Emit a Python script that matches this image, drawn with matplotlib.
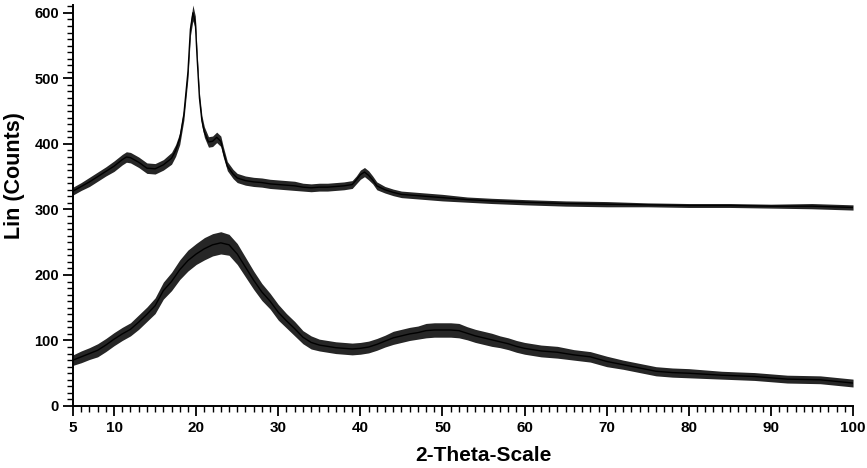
import matplotlib
matplotlib.use('Agg')
import matplotlib.pyplot as plt
from matplotlib.ticker import FixedLocator, MultipleLocator
import numpy as np

# upper pattern
upper_2theta = [5, 6, 7, 8, 9, 10, 11, 11.5, 12, 13, 14, 15, 16, 17, 17.5, 18, 18.5, 19,
                19.3, 19.6, 19.9, 20.1, 20.4, 20.7, 21.0, 21.5, 22, 22.5, 23, 23.3, 23.8,
                24.5, 25, 26, 27, 28, 29, 30, 31, 32, 33, 34, 35, 36, 37, 38, 39, 39.5,
                40, 40.5, 41, 41.5, 42, 43, 44, 45, 47, 50, 53, 56, 60, 65, 70, 75, 80,
                85, 90, 95, 100]
upper_counts = [328, 335, 342, 350, 358, 366, 376, 380, 379, 372, 363, 362, 368, 378, 390,
                408, 445, 510, 575, 600, 585, 535, 470, 435, 418, 403, 404, 410, 404, 388,
                366, 354, 348, 344, 342, 341, 339, 338, 337, 336, 334, 333, 334, 334, 335,
                336, 338, 345, 353, 357, 352, 345, 336, 330, 326, 323, 321, 318, 315, 313,
                311, 309, 308, 307, 306, 306, 305, 305, 303]
upper_noise = [6, 6, 7, 7, 7, 8, 8, 8, 8, 8, 8, 8, 8, 9, 9, 9, 9, 10, 10, 12, 10, 9, 8, 8,
               8, 8, 8, 8, 8, 8, 7, 7, 7, 7, 7, 7, 7, 7, 7, 7, 6, 6, 6, 6, 6, 6, 6, 6, 7,
               7, 7, 6, 6, 5, 5, 5, 5, 5, 4, 4, 4, 4, 4, 3, 3, 3, 3, 4, 4]

# lower pattern
lower_2theta = [5, 6, 7, 8, 9, 10, 11, 12, 13, 14, 15, 16, 17, 18, 19, 20, 21, 22, 23, 24,
                25, 26, 27, 28, 29, 30, 31, 32, 33, 34, 35, 36, 37, 38, 39, 40, 41, 42, 43,
                44, 45, 46, 47, 48, 49, 50, 51, 52, 53, 54, 55, 56, 57, 58, 59, 60, 62, 64,
                66, 68, 70, 72, 74, 76, 78, 80, 84, 88, 92, 96, 100]
lower_counts = [70, 75, 80, 85, 93, 102, 110, 117, 128, 140, 153, 176, 190, 208, 222, 232,
                240, 246, 249, 246, 232, 212, 192, 174, 160, 143, 130, 118, 105, 97, 93, 91,
                89, 88, 87, 88, 90, 94, 99, 104, 107, 110, 112, 115, 116, 116, 116, 115,
                111, 107, 104, 101, 98, 95, 91, 88, 84, 82, 78, 75, 68, 63, 58, 53, 51, 50,
                47, 45, 41, 40, 35]
lower_noise = [8, 9, 9, 10, 10, 10, 10, 10, 11, 11, 12, 13, 14, 15, 16, 16, 17, 17, 17, 16,
               16, 15, 14, 13, 12, 12, 11, 11, 10, 10, 9, 9, 9, 9, 9, 9, 9, 9, 9, 10, 10,
               10, 10, 11, 11, 11, 11, 11, 10, 10, 10, 10, 9, 9, 9, 9, 9, 9, 8, 8, 8, 7, 7,
               7, 7, 7, 6, 6, 6, 6, 6]

fig = plt.figure(figsize=(8.67, 4.68), dpi=100)
ax = fig.add_axes([0.0842, 0.1325, 0.8997, 0.8568])

for tt, cc, nn in [(upper_2theta, upper_counts, upper_noise),
                   (lower_2theta, lower_counts, lower_noise)]:
    tt = np.array(tt, dtype=float)
    cc = np.array(cc, dtype=float)
    nn = np.array(nn, dtype=float)
    ax.fill_between(tt, cc - nn, cc + nn, color='black', alpha=0.85, linewidth=0)
    ax.plot(tt, cc, color='black', linewidth=1.0)

ax.set_xlim(5, 100)
ax.set_ylim(0, 612)

ax.spines['top'].set_visible(False)
ax.spines['right'].set_visible(False)
ax.spines['left'].set_linewidth(1.4)
ax.spines['bottom'].set_linewidth(1.4)

ax.xaxis.set_major_locator(FixedLocator([5, 10, 20, 30, 40, 50, 60, 70, 80, 90, 100]))
ax.xaxis.set_minor_locator(MultipleLocator(1))
ax.yaxis.set_major_locator(MultipleLocator(100))
ax.yaxis.set_minor_locator(MultipleLocator(10))
ax.tick_params(which='major', direction='out', length=7, width=1.3)
ax.tick_params(which='minor', direction='out', length=4, width=1.0)
ax.tick_params(axis='x', labelsize=11, pad=4)
ax.tick_params(axis='y', labelsize=10.5, pad=3)
for lab in ax.get_xticklabels() + ax.get_yticklabels():
    lab.set_fontweight('bold')
    lab.set_fontfamily('Liberation Sans')

ax.set_xlabel('2-Theta-Scale', fontsize=15, fontweight='bold', fontfamily='Liberation Sans')
ax.set_ylabel('Lin (Counts)', fontsize=15.5, fontweight='bold', fontfamily='Liberation Sans')
ax.xaxis.set_label_coords(0.526, -0.101)
ax.yaxis.set_label_coords(-0.062, 0.575)

fig.savefig('out.png', dpi=100)
